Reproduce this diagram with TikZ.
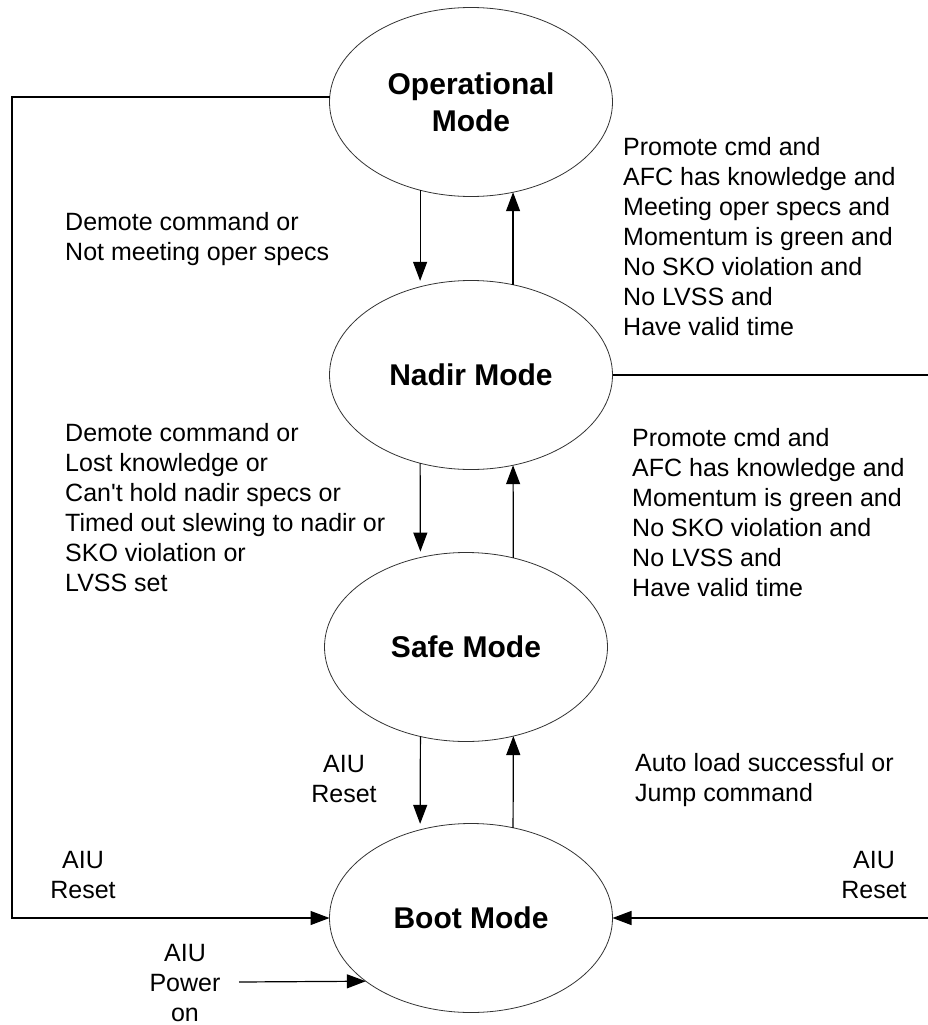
\documentclass[tikz,border=0pt]{standalone}
\usepackage{fontspec}
\setmainfont{Liberation Sans}
\usetikzlibrary{arrows.meta,shapes.geometric}
\begin{document}
\begin{tikzpicture}[x=1pt,y=-1pt,
  mode/.style={ellipse, draw=black!80, line width=0.8pt, minimum width=283pt, minimum height=189pt,
    inner sep=0pt, outer sep=0pt, align=center, font=\fontsize{30}{37}\selectfont\bfseries},
  lbl/.style={inner sep=0pt, anchor=base west, font=\fontsize{25}{30}\selectfont},
  clbl/.style={inner sep=0pt, anchor=base, font=\fontsize{25}{30}\selectfont},
  conn/.style={line width=1.2pt, draw=black},
  arr/.style={conn, -{Triangle[length=19pt,width=14pt]}},
  darr/.style={arr, shorten >=6pt}
]
\useasboundingbox (0,0) rectangle (928,1025);

% states
\node[mode] (op)    at (471,102) {Operational\\Mode};
\node[mode] (nadir) at (471,375) {Nadir Mode};
\node[mode] (safe)  at (466,647) {Safe Mode};
\node[mode] (boot)  at (471,918) {Boot Mode};

% vertical transitions
\draw[darr] (op.-120) -- (nadir.120);
\draw[arr]  (nadir.65.6) -- (op.-65.6);
\draw[darr] (nadir.-120) -- (safe.117.2);
\draw[arr]  (safe.62.8) -- (nadir.-65.6);
\draw[darr] (safe.-117.2) -- (boot.120);
\draw[arr]  (boot.65.6) -- (safe.-62.8);

% outer loops
\coordinate (lft) at (12,0);
\draw[arr] (op.178.8) -- (op.178.8 -| lft) |- (boot.west);
\coordinate (rgt) at (945,0);
\draw[arr] (nadir.east) -- (nadir.east -| rgt) |- (boot.east);

% power on
\coordinate (pw) at (239,982);
\draw[arr] (pw) -- (boot.211.5);

% labels
\node[lbl] (t1) at (65,230) {\begin{tabular}[t]{@{}l@{}}Demote command or\\Not meeting oper specs\end{tabular}};
\node[lbl] (t2) at (623,155) {\begin{tabular}[t]{@{}l@{}}Promote cmd and\\AFC has knowledge and\\Meeting oper specs and\\Momentum is green and\\No SKO violation and\\No LVSS and\\Have valid time\end{tabular}};
\node[lbl] (t3) at (65,441) {\begin{tabular}[t]{@{}l@{}}Demote command or\\Lost knowledge or\\Can\textquotesingle t hold nadir specs or\\Timed out slewing to nadir or\\SKO violation or\\LVSS set\end{tabular}};
\node[lbl] (t4) at (632,446) {\begin{tabular}[t]{@{}l@{}}Promote cmd and\\AFC has knowledge and\\Momentum is green and\\No SKO violation and\\No LVSS and\\Have valid time\end{tabular}};
\node[clbl] (t5) at (344,772) {\begin{tabular}[t]{@{}c@{}}AIU\\Reset\end{tabular}};
\node[lbl] (t6) at (635,771) {\begin{tabular}[t]{@{}l@{}}Auto load successful or\\Jump command\end{tabular}};
\node[clbl] (t7) at (83,868) {\begin{tabular}[t]{@{}c@{}}AIU\\Reset\end{tabular}};
\node[clbl] (t8) at (874,868) {\begin{tabular}[t]{@{}c@{}}AIU\\Reset\end{tabular}};
\node[clbl] (t9) at (185,961) {\begin{tabular}[t]{@{}c@{}}AIU\\Power\\on\end{tabular}};
\end{tikzpicture}
\end{document}
